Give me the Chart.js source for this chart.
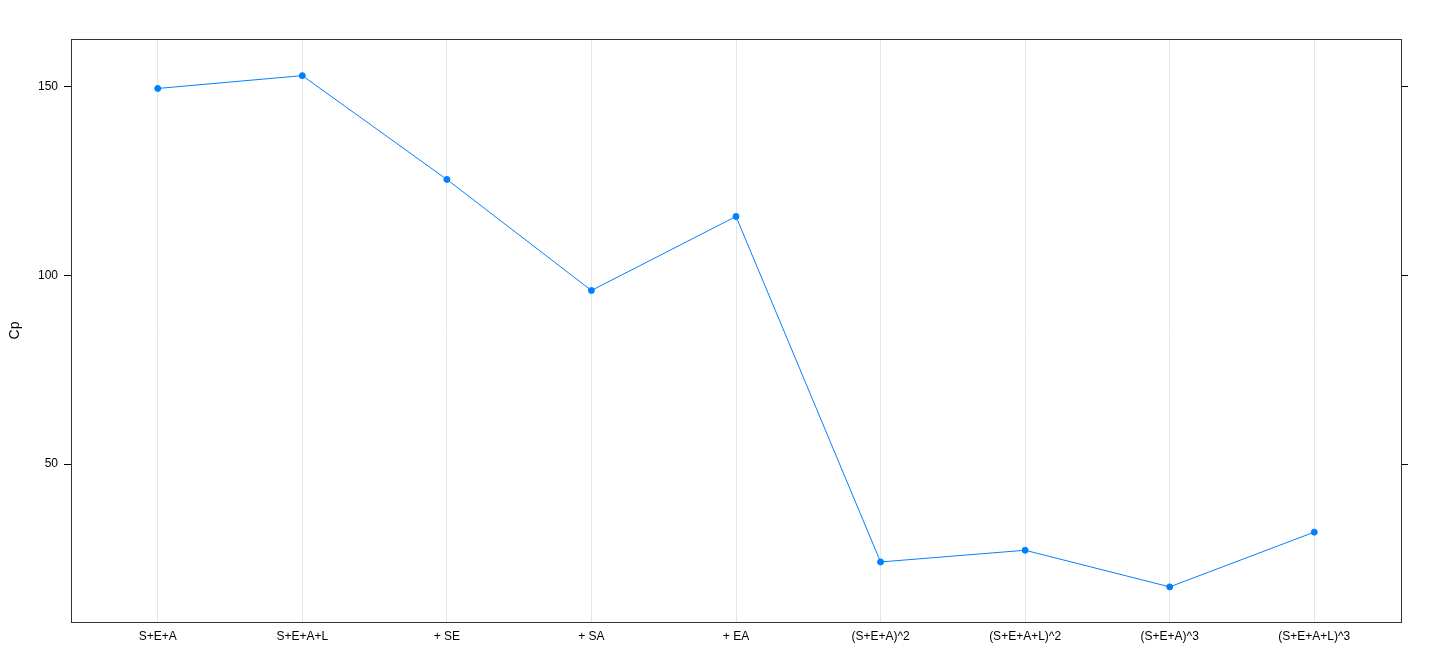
<!DOCTYPE html>
<html lang="en">
<head>
<meta charset="UTF-8">
<title>Cp</title>
<script src="https://cdn.jsdelivr.net/npm/chart.js"></script>
<style>
  html, body { margin: 0; padding: 0; background: #fff; }
  #wrap { width: 1440px; height: 672px; }
</style>
</head>
<body>
<div id="wrap"><canvas id="cpChart" width="1440" height="672"></canvas></div>
<script>
// data
const models = ['S+E+A', 'S+E+A+L', '+ SE', '+ SA', '+ EA',
                '(S+E+A)^2', '(S+E+A+L)^2', '(S+E+A)^3', '(S+E+A+L)^3'];
const cpValues = [149.5, 152.9, 125.4, 96.0, 115.6, 24.1, 27.2, 17.5, 32.0];
const yTicks = [50, 100, 150];

const points = cpValues.map((v, i) => ({ x: i + 1, y: v }));
const font = { family: "'Liberation Sans', Arial, sans-serif", size: 12 };

// frame around the panel, lattice style
const boxPlugin = {
  id: 'box',
  afterDraw(chart) {
    const a = chart.chartArea, c = chart.ctx;
    c.save();
    c.strokeStyle = '#333';
    c.lineWidth = 1;
    c.strokeRect(Math.round(a.left) + 0.5, Math.round(a.top) + 0.5,
                 Math.round(a.right - a.left), Math.round(a.bottom - a.top));
    c.restore();
  }
};

const yScale = (pos) => ({
  type: 'linear',
  position: pos,
  min: 8.2,
  max: 162.6,
  afterBuildTicks: s => { s.ticks = yTicks.map(v => ({ value: v })); },
  afterFit: s => { s.width = pos === 'left' ? 71 : 39; },
  grid: { drawOnChartArea: false, drawTicks: true, tickLength: 7, color: '#000', tickColor: '#000' },
  border: { display: false },
  ticks: { display: pos === 'left', color: '#000', font: font, padding: 6 },
  title: pos === 'left'
    ? { display: true, text: 'Cp', color: '#000', font: { family: font.family, size: 14 }, padding: { top: 7, bottom: 11 } }
    : { display: false }
});

new Chart(document.getElementById('cpChart'), {
  type: 'line',
  data: {
    datasets: [{
      data: points,
      borderColor: '#0080ff',
      backgroundColor: '#0080ff',
      borderWidth: 1,
      pointRadius: 3,
      pointHoverRadius: 3,
      tension: 0
    }]
  },
  options: {
    responsive: false,
    animation: false,
    devicePixelRatio: 1,
    layout: { padding: { top: 39, left: 0, right: 0, bottom: 0 } },
    plugins: { legend: { display: false }, tooltip: { enabled: false } },
    scales: {
      x: {
        type: 'linear',
        min: 0.4,
        max: 9.6,
        afterBuildTicks: s => { s.ticks = models.map((m, i) => ({ value: i + 1 })); },
        afterFit: s => { s.height = 50; },
        grid: { drawTicks: false, color: '#e6e6e6' },
        border: { display: false },
        ticks: {
          color: '#000',
          font: font,
          padding: 7,
          maxRotation: 0,
          autoSkip: false,
          callback: v => models[Math.round(v) - 1]
        }
      },
      y: yScale('left'),
      y2: yScale('right')
    }
  },
  plugins: [boxPlugin]
});
</script>
</body>
</html>
